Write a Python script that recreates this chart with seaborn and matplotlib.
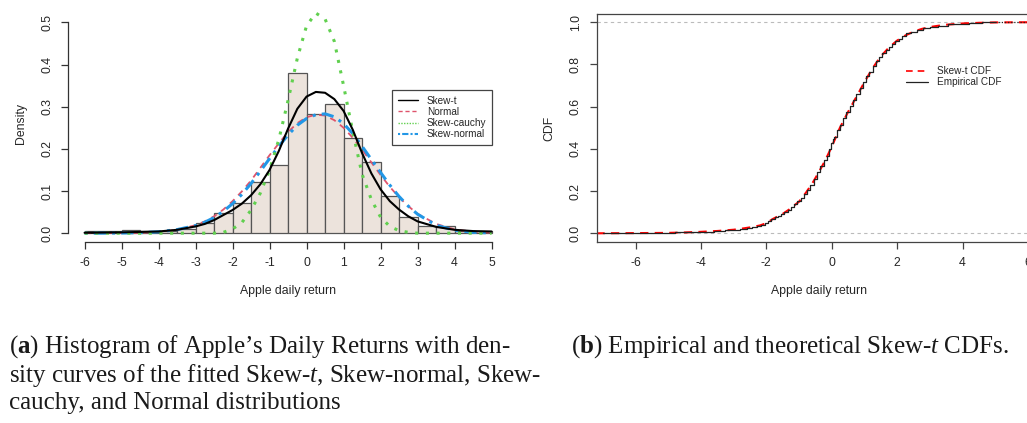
import matplotlib
matplotlib.use("Agg")
import matplotlib.pyplot as plt
import seaborn as sns
from matplotlib.lines import Line2D

# histogram of Apple daily returns (density per 0.5 wide bin)
bin_edges = [-6, -5.5, -5, -4.5, -4, -3.5, -3, -2.5, -2, -1.5, -1, -0.5,
             0, 0.5, 1, 1.5, 2, 2.5, 3, 3.5, 4, 4.5, 5]
bin_centers = [-5.75, -5.25, -4.75, -4.25, -3.75, -3.25, -2.75, -2.25, -1.75,
               -1.25, -0.75, -0.25, 0.25, 0.75, 1.25, 1.75, 2.25, 2.75, 3.25,
               3.75, 4.25, 4.75]
hist_density = [0.006, 0.006, 0.008, 0.004, 0.005, 0.010, 0.025, 0.047, 0.071,
                0.121, 0.161, 0.379, 0.282, 0.307, 0.225, 0.169, 0.088, 0.038,
                0.016, 0.016, 0.006, 0.005]

# fitted density curves
curve_x = [-6, -5.5, -5, -4.5, -4, -3.5,
           -3, -2.75, -2.5, -2.25, -2, -1.75, -1.5, -1.25, -1, -0.75, -0.5, -0.25,
           0, 0.25, 0.5, 0.75, 1, 1.25, 1.5, 1.75, 2, 2.25, 2.5, 2.75, 3,
           3.5, 4, 4.5, 5]
skew_t = [0.001, 0.0015, 0.002, 0.003, 0.004, 0.008,
          0.016, 0.022, 0.031, 0.043, 0.055, 0.070, 0.090, 0.116, 0.150, 0.195,
          0.248, 0.295, 0.324, 0.335, 0.333, 0.318, 0.290, 0.245, 0.190, 0.142,
          0.104, 0.076, 0.056, 0.040, 0.028,
          0.015, 0.008, 0.005, 0.004]
normal = [0.0, 0.0001, 0.0003, 0.0010, 0.0030, 0.0080,
          0.019, 0.028, 0.040, 0.056, 0.076, 0.099, 0.125, 0.155, 0.185, 0.213,
          0.240, 0.261, 0.275, 0.281, 0.279, 0.268, 0.250, 0.226, 0.198, 0.168,
          0.138, 0.110, 0.085, 0.064, 0.046,
          0.022, 0.009, 0.0035, 0.0012]
skew_cauchy = [0, 0, 0, 0, 0, 0,
               0.0, 0.0, 0.0, 0.002, 0.010, 0.025, 0.055, 0.095, 0.150, 0.222,
               0.315, 0.415, 0.492, 0.522, 0.508, 0.455, 0.350, 0.240, 0.140,
               0.080, 0.038, 0.016, 0.006, 0.002, 0.0,
               0, 0, 0, 0]
skew_normal = [0.0, 0.0001, 0.0004, 0.0012, 0.0033, 0.0085,
               0.018, 0.026, 0.037, 0.052, 0.070, 0.092, 0.118, 0.147, 0.177,
               0.206, 0.233, 0.256, 0.272, 0.281, 0.283, 0.276, 0.260, 0.236,
               0.206, 0.175, 0.144, 0.114, 0.087, 0.064, 0.045,
               0.019, 0.007, 0.002, 0.0005]

# CDF panel
cdf_x = [-7.2, -6, -5, -4.5, -4, -3.5, -3, -2.8, -2.5, -2.2, -2, -1.8, -1.5,
         -1.3, -1, -0.8, -0.6, -0.4, -0.2, 0, 0.25, 0.5, 0.75, 1, 1.25, 1.5,
         1.75, 2, 2.25, 2.5, 2.75, 3, 3.25, 3.5, 4, 4.5, 5, 6.4]
skew_t_cdf = [0.0, 0.001, 0.002, 0.004, 0.007, 0.011, 0.017, 0.021, 0.028,
              0.037, 0.048, 0.068, 0.092, 0.113, 0.150, 0.190, 0.235, 0.288,
              0.345, 0.410, 0.500, 0.575, 0.645, 0.716, 0.782, 0.838, 0.880,
              0.913, 0.937, 0.955, 0.968, 0.977, 0.983, 0.988, 0.994, 0.997,
              0.999, 1.0]
ecdf_x = [-7.0, -5.6, -5.0, -4.6, -4.2, -3.8, -3.4, -3.1, -2.9, -2.7,
          -2.5, -2.35, -2.2, -2.1, -2.0, -1.9, -1.8, -1.7, -1.6, -1.5,
          -1.4, -1.3, -1.2, -1.1, -1.0, -0.9, -0.8, -0.7, -0.6, -0.5,
          -0.4, -0.3, -0.2, -0.12, -0.05, 0.0, 0.05, 0.1, 0.2, 0.3,
          0.4, 0.5, 0.6, 0.7, 0.8, 0.9, 1.0, 1.1, 1.2, 1.3,
          1.4, 1.5, 1.6, 1.7, 1.8, 1.9, 2.0, 2.1, 2.2, 2.35,
          2.5, 2.7, 2.9, 3.1, 3.4, 3.7, 4.0, 4.4, 4.8, 5.0]
ecdf_y = [0.000, 0.001, 0.003, 0.005, 0.006, 0.008, 0.011, 0.015, 0.018, 0.022,
          0.027, 0.031, 0.034, 0.040, 0.050, 0.058, 0.070, 0.078, 0.082, 0.090,
          0.103, 0.112, 0.124, 0.140, 0.152, 0.166, 0.185, 0.205, 0.228, 0.258,
          0.290, 0.318, 0.346, 0.368, 0.398, 0.428, 0.448, 0.458, 0.487, 0.514,
          0.547, 0.574, 0.604, 0.633, 0.660, 0.690, 0.717, 0.744, 0.766, 0.792,
          0.815, 0.836, 0.856, 0.870, 0.884, 0.896, 0.910, 0.922, 0.934, 0.950,
          0.955, 0.962, 0.972, 0.978, 0.984, 0.990, 0.993, 0.997, 0.999, 1.000]

sns.set_theme(style="white")
plt.rcParams["font.family"] = ["Liberation Sans", "DejaVu Sans"]
plt.rcParams["mathtext.fontset"] = "custom"
plt.rcParams["mathtext.rm"] = "Liberation Serif"
plt.rcParams["mathtext.it"] = "Liberation Serif:italic"
plt.rcParams["mathtext.bf"] = "Liberation Serif:bold"

fig = plt.figure(figsize=(10.27, 4.23), dpi=100)
ax1 = fig.add_axes([0.0665, 0.428, 0.428, 0.560])
ax2 = fig.add_axes([0.5813, 0.428, 0.4323, 0.539])

red = "#DF536B"
green = "#61D04F"
blue = "#2297E6"
fs = 8.8

# --- left panel: histogram + densities
sns.histplot(x=bin_centers, weights=hist_density, bins=bin_edges, stat="count",
             ax=ax1, color="#ECE3DC", edgecolor="#555555", linewidth=0.9,
             alpha=1)
sns.lineplot(x=curve_x, y=normal, ax=ax1, color=red, lw=1.3,
             linestyle=(0, (3.5, 3)), estimator=None)
sns.lineplot(x=curve_x, y=skew_normal, ax=ax1, color=blue, lw=2.2,
             linestyle=(0, (1, 2, 4, 2)), estimator=None)
sns.lineplot(x=curve_x, y=skew_cauchy, ax=ax1, color=green, lw=2.2,
             linestyle=(0, (1, 2.5)), estimator=None)
sns.lineplot(x=curve_x, y=skew_t, ax=ax1, color="black", lw=1.5,
             estimator=None)

ax1.set_xlim(-6.44, 5.44)
ax1.set_ylim(-0.0208, 0.541)
sns.despine(ax=ax1)
ax1.spines["left"].set_bounds(0, 0.5)
ax1.spines["bottom"].set_bounds(-6, 5)
for s in ("left", "bottom"):
    ax1.spines[s].set_color("#333333")
    ax1.spines[s].set_linewidth(0.9)
ax1.set_xticks([-6, -5, -4, -3, -2, -1, 0, 1, 2, 3, 4, 5])
ax1.set_xticklabels(["-6", "-5", "-4", "-3", "-2", "-1", "0", "1", "2", "3",
                     "4", "5"])
ax1.set_yticks([0, 0.1, 0.2, 0.3, 0.4, 0.5])
ax1.set_yticklabels(["0.0", "0.1", "0.2", "0.3", "0.4", "0.5"], rotation=90,
                    va="center")
ax1.tick_params(axis="both", which="both", direction="out", length=5,
                width=0.9, color="#333333", labelsize=fs, pad=6,
                bottom=True, left=True)
ax1.set_xlabel("Apple daily return", fontsize=fs, labelpad=11)
ax1.set_ylabel("Density", fontsize=fs, labelpad=10)

handles = [
    Line2D([], [], color="black", lw=1.0),
    Line2D([], [], color=red, lw=1.0, linestyle=(0, (3, 2))),
    Line2D([], [], color=green, lw=1.0, linestyle=(0, (1, 1))),
    Line2D([], [], color=blue, lw=1.5, linestyle=(0, (1, 1, 3, 1))),
]
leg = ax1.legend(handles, ["Skew-t", "Normal", "Skew-cauchy", "Skew-normal"],
                 loc="upper left", bbox_to_anchor=(0.725, 0.664), fontsize=7.2,
                 frameon=True, fancybox=False, framealpha=1, borderpad=0.6,
                 labelspacing=0.12, handlelength=2.0, handletextpad=0.9)
leg.get_frame().set_edgecolor("#444444")
leg.get_frame().set_linewidth(0.9)

# --- right panel: CDFs
ax2.axhline(0, color="#BBBBBB", lw=0.8, linestyle=(0, (3, 3)))
ax2.axhline(1, color="#BBBBBB", lw=0.8, linestyle=(0, (3, 3)))
sns.lineplot(x=cdf_x, y=skew_t_cdf, ax=ax2, color="red", lw=1.5,
             linestyle=(0, (4, 3)), estimator=None)
sns.lineplot(x=ecdf_x, y=ecdf_y, ax=ax2, color="#222222", lw=0.9,
             drawstyle="steps-mid", estimator=None)
ax2.plot([5.0, 6.4], [1.0, 1.0], color="#222222", lw=0.9,
         linestyle=(0, (1, 1.5)))
ax2.set_xlim(-7.18, 6.4)
ax2.set_ylim(-0.041, 1.039)
for s in ax2.spines.values():
    s.set_color("#444444")
    s.set_linewidth(0.9)
ax2.set_xticks([-6, -4, -2, 0, 2, 4, 6])
ax2.set_xticklabels(["-6", "-4", "-2", "0", "2", "4", "6"])
ax2.set_yticks([0, 0.2, 0.4, 0.6, 0.8, 1.0])
ax2.set_yticklabels(["0.0", "0.2", "0.4", "0.6", "0.8", "1.0"], rotation=90,
                    va="center")
ax2.tick_params(axis="both", which="both", direction="out", length=5,
                width=0.9, color="#444444", labelsize=fs, pad=6,
                bottom=True, left=True)
ax2.set_xlabel("Apple daily return", fontsize=fs, labelpad=11)
ax2.set_ylabel("CDF", fontsize=fs, labelpad=10)

handles2 = [Line2D([], [], color="red", lw=1.2, linestyle=(0, (4, 3))),
            Line2D([], [], color="#222222", lw=0.9)]
ax2.legend(handles2, ["Skew-t CDF", "Empirical CDF"], loc="upper left",
           bbox_to_anchor=(0.676, 0.81), fontsize=7.2, frameon=False,
           labelspacing=0.1, handlelength=2.2, handletextpad=0.9)

# --- captions
cap = dict(fontsize=18, family="Liberation Serif", color="#1a1a1a",
           va="center", ha="left")
fig.text(0.009, 0.180, r"($\mathbf{a}$) Histogram of Apple’s Daily Returns with den-", **cap)
fig.text(0.009, 0.113, r"sity curves of the fitted Skew-$\mathit{t}$, Skew-normal, Skew-", **cap)
fig.text(0.009, 0.047, "cauchy, and Normal distributions", **cap)
fig.text(0.556, 0.180, r"($\mathbf{b}$) Empirical and theoretical Skew-$\mathit{t}$ CDFs.", **cap)

fig.savefig("out.png", dpi=100)
